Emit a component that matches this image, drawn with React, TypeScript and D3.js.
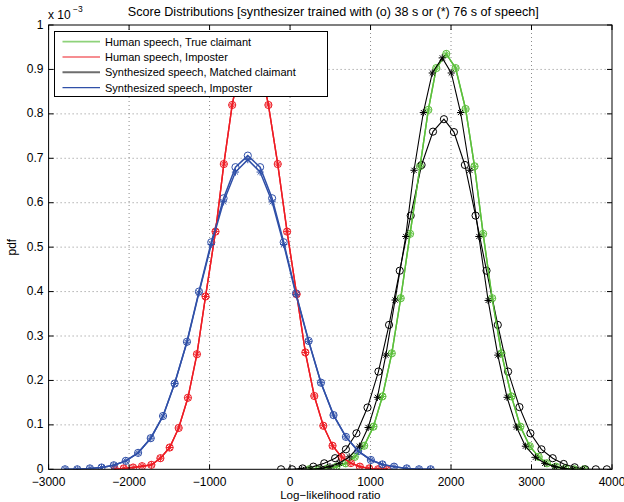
import { useEffect, useRef } from "react";
import * as d3 from "d3";

// pdf values are in units of 1e-3 (the axis shows "x 10^-3")
const xTicks = [-3000, -2000, -1000, 0, 1000, 2000, 3000, 4000];
const yTicks = [0, 0.1, 0.2, 0.3, 0.4, 0.5, 0.6, 0.7, 0.8, 0.9, 1];

// Human speech, true claimant (same in both conditions)
const greenX = [237, 350, 463, 577, 691, 804, 921, 1036, 1148, 1264, 1375, 1491, 1615, 1718, 1817, 1941, 2057, 2181, 2292, 2399, 2511, 2627, 2751, 2862, 2978, 3089, 3192, 3304, 3420, 3532, 3656];
const greenY = [0, 0, 0.002, 0.006, 0.0135, 0.028, 0.053, 0.096, 0.164, 0.261, 0.385, 0.53, 0.682, 0.809, 0.903, 0.935, 0.903, 0.811, 0.682, 0.53, 0.385, 0.261, 0.164, 0.096, 0.052, 0.028, 0.0135, 0.006, 0.002, 0, 0];

// Human speech, imposter (same in both conditions)
const redX = [-2177, -2066, -1950, -1839, -1723, -1611, -1496, -1384, -1269, -1157, -1050, -926, -823, -719, -607, -494, -382, -269, -153, -37, 82, 190, 301, 413, 528, 639, 756, 867, 983, 1094, 1202];
const redY = [0, 0.002, 0.004, 0.007, 0.01, 0.025, 0.049, 0.093, 0.161, 0.259, 0.389, 0.535, 0.687, 0.82, 0.92, 0.96, 0.92, 0.82, 0.687, 0.535, 0.394, 0.263, 0.165, 0.098, 0.053, 0.028, 0.014, 0.006, 0.002, 0, 0];

// Synthesized speech, matched claimant: 38 s (o) and 76 s (*)
const blackCircX = [-112, 25, 156, 289, 425, 560, 694, 825, 962, 1098, 1230, 1363, 1499, 1634, 1776, 1912, 2036, 2172, 2305, 2441, 2581, 2709, 2850, 2986, 3123, 3263, 3400, 3536, 3668, 3799, 3936];
const blackCircY = [0, 0, 0.002, 0.006, 0.0135, 0.025, 0.045, 0.081, 0.139, 0.22, 0.325, 0.447, 0.571, 0.685, 0.76, 0.788, 0.759, 0.685, 0.571, 0.447, 0.325, 0.22, 0.14, 0.081, 0.045, 0.025, 0.012, 0.0045, 0, 0, 0];
const blackStarX = [145, 260, 384, 496, 611, 735, 862, 970, 1085, 1190, 1305, 1437, 1540, 1656, 1767, 1891, 2003, 2119, 2234, 2346, 2461, 2581, 2696, 2813, 2924, 3048, 3164, 3288, 3400, 3511, 3635];
const blackStarY = [0, 0, 0.002, 0.006, 0.0135, 0.028, 0.052, 0.094, 0.162, 0.257, 0.381, 0.524, 0.673, 0.803, 0.892, 0.926, 0.892, 0.803, 0.673, 0.524, 0.38, 0.257, 0.162, 0.095, 0.052, 0.027, 0.0135, 0.006, 0.002, 0, 0];

// Synthesized speech, imposter: 38 s (o) and 76 s (*)
const blueX = [-2796, -2644, -2487, -2342, -2190, -2041, -1888, -1731, -1578, -1434, -1281, -1132, -979, -826, -678, -525, -372, -223, -79, 74, 231, 384, 540, 694, 846, 1004, 1147, 1292, 1450, 1602, 1747];
const blueCircY = [0, 0, 0.002, 0.004, 0.009, 0.019, 0.037, 0.07, 0.12, 0.193, 0.287, 0.4, 0.511, 0.61, 0.68, 0.706, 0.68, 0.61, 0.511, 0.396, 0.289, 0.195, 0.122, 0.073, 0.041, 0.021, 0.011, 0.006, 0.002, 0, 0];
const blueStarY = [0, 0, 0.002, 0.004, 0.009, 0.019, 0.037, 0.07, 0.12, 0.193, 0.286, 0.397, 0.506, 0.602, 0.669, 0.697, 0.669, 0.602, 0.506, 0.393, 0.288, 0.195, 0.122, 0.073, 0.041, 0.021, 0.011, 0.006, 0.002, 0, 0];

const legendLabels = [
  "Human speech, True claimant",
  "Human speech, Imposter",
  "Synthesized speech, Matched claimant",
  "Synthesized speech, Imposter",
];

const GREEN = "#5cbf3c";
const RED = "#ee1c24";
const BLACK = "#000000";
const BLUE = "#3050a8";

const W = 624;
const H = 502;
const margin = { left: 48.6, right: 612, top: 25, bottom: 469.3 };
const FONT = "'Liberation Sans', Arial, Helvetica, sans-serif";

export default function App() {
  const svgRef = useRef<SVGSVGElement>(null);

  useEffect(() => {
    if (!svgRef.current) return;
    const svg = d3.select(svgRef.current);
    svg.selectAll("*").remove();

    const x = d3.scaleLinear().domain([-3000, 4000]).range([margin.left, margin.right]);
    const y = d3.scaleLinear().domain([0, 1]).range([margin.bottom, margin.top]);

    svg.append("rect").attr("width", W).attr("height", H).attr("fill", "#fff");

    svg
      .append("defs")
      .append("clipPath")
      .attr("id", "plotclip")
      .append("rect")
      .attr("x", margin.left)
      .attr("y", margin.top)
      .attr("width", margin.right - margin.left)
      .attr("height", margin.bottom - margin.top);

    // grid
    const grid = svg.append("g").attr("stroke", "#8a8a8a").attr("stroke-width", 1).attr("stroke-dasharray", "1,3");
    xTicks.slice(1, -1).forEach((t) => {
      grid.append("line").attr("x1", x(t)).attr("x2", x(t)).attr("y1", margin.top).attr("y2", margin.bottom);
    });
    yTicks.slice(1, -1).forEach((t) => {
      grid.append("line").attr("x1", margin.left).attr("x2", margin.right).attr("y1", y(t)).attr("y2", y(t));
    });

    const plot = svg.append("g").attr("clip-path", "url(#plotclip)");
    const line = d3
      .line<[number, number]>()
      .x((d) => x(d[0]))
      .y((d) => y(d[1]));

    const r = 3.6;
    const k = r * 0.7071;
    const starPath = `M${-r},0L${r},0M0,${-r}L0,${r}M${-k},${-k}L${k},${k}M${-k},${k}L${k},${-k}`;

    const drawSeries = (xs: number[], ys: number[], color: string, marker: "o" | "*", width: number) => {
      const pts: [number, number][] = xs.map((v, i) => [v, ys[i]]);
      plot
        .append("path")
        .attr("d", line(pts))
        .attr("fill", "none")
        .attr("stroke", color)
        .attr("stroke-width", width);
      const g = plot.append("g");
      pts.forEach((p) => {
        if (marker === "o") {
          g.append("circle")
            .attr("cx", x(p[0]))
            .attr("cy", y(p[1]))
            .attr("r", r)
            .attr("fill", "none")
            .attr("stroke", color)
            .attr("stroke-width", 1);
        } else {
          g.append("path")
            .attr("d", starPath)
            .attr("transform", `translate(${x(p[0])},${y(p[1])})`)
            .attr("fill", "none")
            .attr("stroke", color)
            .attr("stroke-width", 1);
        }
      });
    };

    drawSeries(greenX, greenY, GREEN, "o", 1.4);
    drawSeries(redX, redY, RED, "o", 1.4);
    drawSeries(blackCircX, blackCircY, BLACK, "o", 1.1);
    drawSeries(blueX, blueCircY, BLUE, "o", 1.5);
    drawSeries(greenX, greenY, GREEN, "*", 1.4);
    drawSeries(redX, redY, RED, "*", 1.4);
    drawSeries(blackStarX, blackStarY, BLACK, "*", 1.1);
    drawSeries(blueX, blueStarY, BLUE, "*", 1.5);

    // axes box + ticks
    const ax = svg.append("g").attr("stroke", "#000").attr("stroke-width", 1);
    ax.append("rect")
      .attr("x", margin.left)
      .attr("y", margin.top)
      .attr("width", margin.right - margin.left)
      .attr("height", margin.bottom - margin.top)
      .attr("fill", "none");
    const tl = 5;
    xTicks.forEach((t) => {
      ax.append("line").attr("x1", x(t)).attr("x2", x(t)).attr("y1", margin.bottom).attr("y2", margin.bottom - tl);
      ax.append("line").attr("x1", x(t)).attr("x2", x(t)).attr("y1", margin.top).attr("y2", margin.top + tl);
    });
    yTicks.forEach((t) => {
      ax.append("line").attr("x1", margin.left).attr("x2", margin.left + tl).attr("y1", y(t)).attr("y2", y(t));
      ax.append("line").attr("x1", margin.right).attr("x2", margin.right - tl).attr("y1", y(t)).attr("y2", y(t));
    });

    const txt = svg.append("g").attr("font-family", FONT).attr("font-size", 12).attr("fill", "#000");
    const fmtX = d3.format("d");
    xTicks.forEach((t) => {
      txt.append("text")
        .attr("x", x(t))
        .attr("y", 486.3)
        .attr("text-anchor", "middle")
        .text(fmtX(t));
    });
    yTicks.forEach((t) => {
      txt.append("text")
        .attr("x", 43.5)
        .attr("y", y(t) + 3.5)
        .attr("text-anchor", "end")
        .text(d3.format("~g")(t));
    });

    // exponent label
    txt.append("text").attr("x", 48).attr("y", 19).text("x 10");
    txt.append("text").attr("x", 73).attr("y", 12).attr("font-size", 8.5).text("\u22123");

    // title and axis labels
    txt.append("text")
      .attr("x", (margin.left + margin.right) / 2 + 3)
      .attr("y", 16)
      .attr("font-size", 12.6)
      .attr("text-anchor", "middle")
      .text("Score Distributions [synthesizer trained with (o) 38 s or (*) 76 s of speech]");
    txt.append("text")
      .attr("x", (margin.left + margin.right) / 2)
      .attr("y", 499.4)
      .attr("font-size", 11.6)
      .attr("text-anchor", "middle")
      .text("Log\u2212likelihood ratio");
    txt.append("text")
      .attr("transform", `translate(16,${(margin.top + margin.bottom) / 2}) rotate(-90)`)
      .attr("text-anchor", "middle")
      .text("pdf");

    // legend
    const lg = svg.append("g");
    lg.append("rect")
      .attr("x", 54.5)
      .attr("y", 31.5)
      .attr("width", 273)
      .attr("height", 65)
      .attr("fill", "#fff")
      .attr("stroke", "#000")
      .attr("stroke-width", 1);
    const legendColors = ["#8ed27a", RED, "#6e6e6e", BLUE];
    const legendWidths = [1.8, 1.1, 2, 1.1];
    legendLabels.forEach((label, i) => {
      const ly = 41.7 + i * 15.3;
      lg.append("line")
        .attr("x1", 62.5)
        .attr("x2", 100)
        .attr("y1", ly)
        .attr("y2", ly)
        .attr("stroke", legendColors[i])
        .attr("stroke-width", legendWidths[i]);
      lg.append("text")
        .attr("x", 105)
        .attr("y", ly + 4)
        .attr("font-family", FONT)
        .attr("font-size", 11)
        .text(label);
    });
  }, []);

  return (
    <svg
      ref={svgRef}
      width={W}
      height={H}
      style={{ position: "absolute", left: 0, top: 0, display: "block" }}
    />
  );
}
